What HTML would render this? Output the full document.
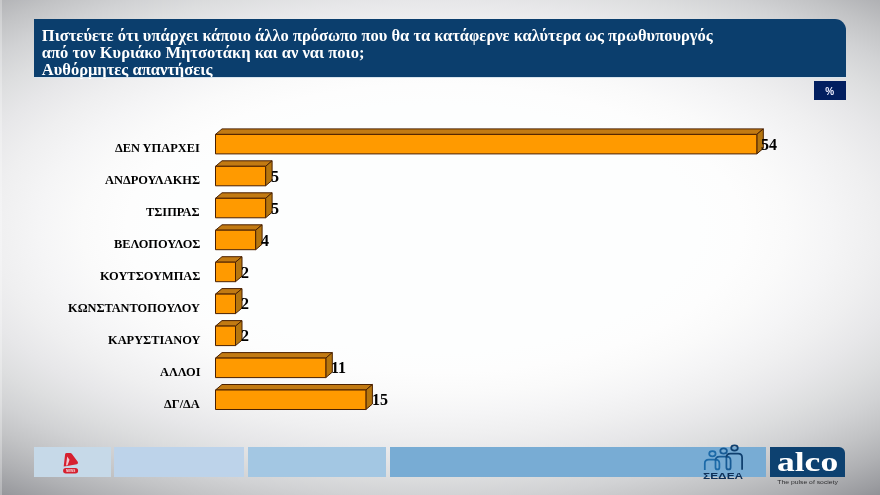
<!DOCTYPE html>
<html><head><meta charset="utf-8">
<style>
*{margin:0;padding:0;box-sizing:border-box}
html,body{width:880px;height:495px;overflow:hidden}
body{position:relative;font-family:"Liberation Serif",serif;
background:radial-gradient(ellipse 440px 206.3px at 434.3px 228.5px, rgb(253,254,254) 0%, rgb(253,254,254) 10%, rgb(253,254,254) 20%, rgb(253,254,254) 30%, rgb(253,254,254) 40%, rgb(253,254,254) 50%, rgb(253,254,254) 60%, rgb(253,253,253) 70%, rgb(250,250,250) 80%, rgb(245,245,246) 90%, rgb(239,239,240) 100%, rgb(231,231,233) 110%, rgb(221,222,223) 120%, rgb(209,210,212) 130%, rgb(194,195,197) 140%, rgb(176,177,180) 150%, rgb(155,156,160) 160%, rgb(130,131,137) 170%, rgb(101,102,109) 180%);
}
.abs{position:absolute}
.lbl,.val,#title,#pct{will-change:transform}
#title{left:34px;top:18.7px;width:812px;height:58px;background:#0b3e6d;border-top-right-radius:11px;
 color:#fff;font-weight:bold;font-size:16.5px;line-height:17px;padding:7.6px 0 0 7.8px;white-space:nowrap}
#titleline{left:34px;top:77px;width:812px;height:1px;background:#d8e4ee}
#pct{left:814px;top:81px;width:31.5px;height:19.2px;background:#021f60;color:#eef;
 font-family:"Liberation Sans",sans-serif;font-weight:bold;font-size:10px;text-align:center;line-height:22.2px}
.lbl{position:absolute;right:680px;font-weight:bold;font-size:12.4px;white-space:nowrap;color:#000;line-height:12px}
.val{position:absolute;font-weight:bold;font-size:16px;color:#000;line-height:16px}
.bb{position:absolute;top:447px;height:30px}
</style></head><body>

<div class="abs" style="left:0;top:0;width:2px;height:495px;background:rgba(255,255,255,0.28)"></div>
<div id="title" class="abs">Πιστεύετε ότι υπάρχει κάποιο άλλο πρόσωπο που θα τα κατάφερνε καλύτερα ως πρωθυπουργός<br>από τον Κυριάκο Μητσοτάκη και αν ναι ποιο;<br>Αυθόρμητες απαντήσεις</div>
<div id="titleline" class="abs"></div>
<div id="pct" class="abs">%</div>

<svg class="abs" style="left:0;top:0" width="880" height="495" viewBox="0 0 880 495">
<g id="bars" stroke="#4a2000" stroke-width="1" stroke-linejoin="round">
<polygon points="215.5,134.4 222.0,128.9 763.3,128.9 756.8,134.4" fill="#c27a12"/>
<polygon points="756.8,134.4 763.3,128.9 763.3,148.4 756.8,153.9" fill="#b5760f"/>
<rect x="215.5" y="134.4" width="541.3" height="19.5" fill="#ff9a00"/>
<polygon points="215.5,166.3 222.0,160.8 272.1,160.8 265.6,166.3" fill="#c27a12"/>
<polygon points="265.6,166.3 272.1,160.8 272.1,180.3 265.6,185.8" fill="#b5760f"/>
<rect x="215.5" y="166.3" width="50.1" height="19.5" fill="#ff9a00"/>
<polygon points="215.5,198.3 222.0,192.8 272.1,192.8 265.6,198.3" fill="#c27a12"/>
<polygon points="265.6,198.3 272.1,192.8 272.1,212.3 265.6,217.8" fill="#b5760f"/>
<rect x="215.5" y="198.3" width="50.1" height="19.5" fill="#ff9a00"/>
<polygon points="215.5,230.2 222.0,224.8 262.1,224.8 255.6,230.2" fill="#c27a12"/>
<polygon points="255.6,230.2 262.1,224.8 262.1,244.2 255.6,249.8" fill="#b5760f"/>
<rect x="215.5" y="230.2" width="40.1" height="19.5" fill="#ff9a00"/>
<polygon points="215.5,262.2 222.0,256.7 242.0,256.7 235.5,262.2" fill="#c27a12"/>
<polygon points="235.5,262.2 242.0,256.7 242.0,276.2 235.5,281.7" fill="#b5760f"/>
<rect x="215.5" y="262.2" width="20.0" height="19.5" fill="#ff9a00"/>
<polygon points="215.5,294.1 222.0,288.6 242.0,288.6 235.5,294.1" fill="#c27a12"/>
<polygon points="235.5,294.1 242.0,288.6 242.0,308.1 235.5,313.6" fill="#b5760f"/>
<rect x="215.5" y="294.1" width="20.0" height="19.5" fill="#ff9a00"/>
<polygon points="215.5,326.1 222.0,320.6 242.0,320.6 235.5,326.1" fill="#c27a12"/>
<polygon points="235.5,326.1 242.0,320.6 242.0,340.1 235.5,345.6" fill="#b5760f"/>
<rect x="215.5" y="326.1" width="20.0" height="19.5" fill="#ff9a00"/>
<polygon points="215.5,358.1 222.0,352.6 332.3,352.6 325.8,358.1" fill="#c27a12"/>
<polygon points="325.8,358.1 332.3,352.6 332.3,372.1 325.8,377.6" fill="#b5760f"/>
<rect x="215.5" y="358.1" width="110.3" height="19.5" fill="#ff9a00"/>
<polygon points="215.5,390.0 222.0,384.5 372.4,384.5 365.9,390.0" fill="#c27a12"/>
<polygon points="365.9,390.0 372.4,384.5 372.4,404.0 365.9,409.5" fill="#b5760f"/>
<rect x="215.5" y="390.0" width="150.4" height="19.5" fill="#ff9a00"/>
</g>
</svg>

<div class="lbl" style="top:142.15px">ΔΕΝ ΥΠΑΡΧΕΙ</div>
<div class="lbl" style="top:174.10px">ΑΝΔΡΟΥΛΑΚΗΣ</div>
<div class="lbl" style="top:206.05px">ΤΣΙΠΡΑΣ</div>
<div class="lbl" style="top:238.00px">ΒΕΛΟΠΟΥΛΟΣ</div>
<div class="lbl" style="top:269.95px">ΚΟΥΤΣΟΥΜΠΑΣ</div>
<div class="lbl" style="top:301.90px">ΚΩΝΣΤΑΝΤΟΠΟΥΛΟΥ</div>
<div class="lbl" style="top:333.85px">ΚΑΡΥΣΤΙΑΝΟΥ</div>
<div class="lbl" style="top:365.80px">ΑΛΛΟΙ</div>
<div class="lbl" style="top:397.75px">ΔΓ/ΔΑ</div>
<div class="val" style="left:761.30px;top:136.70px">54</div>
<div class="val" style="left:271.32px;top:168.65px">5</div>
<div class="val" style="left:271.32px;top:200.60px">5</div>
<div class="val" style="left:261.30px;top:232.55px">4</div>
<div class="val" style="left:241.25px;top:264.50px">2</div>
<div class="val" style="left:241.25px;top:296.45px">2</div>
<div class="val" style="left:241.25px;top:328.40px">2</div>
<div class="val" style="left:331.46px;top:360.35px">11</div>
<div class="val" style="left:371.56px;top:392.30px">15</div>

<!-- bottom band -->
<div class="bb" style="left:33.5px;width:77.5px;background:#c6d9e8"></div>
<div class="bb" style="left:114px;width:130px;background:#bdd3ea"></div>
<div class="bb" style="left:247.5px;width:138.5px;background:#a3c7e3"></div>
<div class="bb" style="left:390px;width:376px;background:#78acd4"></div>
<div class="bb" style="left:770px;width:75px;background:#0d4170;border-top-right-radius:6px"></div>
<!-- alpha logo -->
<svg class="abs" style="left:60px;top:450px" width="22" height="26" viewBox="0 0 22 26">
<path d="M3.7,16.4 L5.1,4.3 Q5.3,2.9 6.7,2.9 L10.2,2.9 Q11.2,2.9 11.8,3.8 L17.9,12 Q18.4,13.9 16.8,14.3 L7.2,16.1 Z" fill="#d6202f"/>
<path d="M7.2,6.4 L9.5,9.8 L7.6,15.2 L6.0,15.6 Z" fill="#efc8d0"/>
<rect x="3.1" y="18.1" width="15" height="5.4" rx="2.7" fill="#d6202f"/>
<text x="6" y="22.2" font-family="Liberation Sans" font-weight="bold" font-size="3.9" fill="#f6dfe2" textLength="9.2" lengthAdjust="spacingAndGlyphs">NEWS</text>
</svg>
<!-- sedea logo -->
<svg class="abs" style="left:700px;top:440px" width="48" height="42" viewBox="0 0 48 42">
<g fill="none" stroke-width="1.75" stroke-linecap="butt">
<ellipse cx="12.4" cy="13.7" rx="3.2" ry="2.6" stroke="#1c6aa8"/>
<ellipse cx="23.6" cy="11" rx="3.3" ry="2.7" stroke="#175a94"/>
<ellipse cx="34.5" cy="7.9" rx="3.3" ry="2.6" stroke="#0f3f6e"/>
<path d="M4.8,30 V23.3 Q4.8,19.6 8.8,19.6 H15.6 Q19.4,19.6 19.4,23.5 V27.4 Q19.4,29.4 17.45,29.4 Q15.5,29.4 15.5,27.4 V20.5" stroke="#1c6aa8"/>
<path d="M15.5,20.5 Q15.5,16.6 19.6,16.6 H26.6 Q30.6,16.6 30.6,20.5 V27.4 Q30.6,29.4 28.5,29.4 Q26.4,29.4 26.4,27.4 V17.5" stroke="#175a94"/>
<path d="M26.4,17.5 Q26.4,13.6 30.4,13.6 H38.2 Q42.1,13.6 42.1,17.5 V29.8" stroke="#0f3f6e"/>
</g>
<text x="3.1" y="38.9" font-family="Liberation Sans" font-weight="bold" font-size="8.4" fill="#0e2f57" textLength="40" lengthAdjust="spacingAndGlyphs">ΣΕΔΕΑ</text>
</svg>
<!-- alco -->
<svg class="abs" style="left:770px;top:440px" width="80" height="55" viewBox="0 0 80 55">
<text x="6.9" y="30.8" font-family="Liberation Serif" font-weight="bold" font-size="26.5" fill="#fff" textLength="61.3" lengthAdjust="spacingAndGlyphs">alco</text>
<text x="7.3" y="44" font-family="Liberation Sans" font-size="5.6" fill="#2e2e30" textLength="60.6" lengthAdjust="spacingAndGlyphs">The pulse of society</text>
</svg>
</body></html>
